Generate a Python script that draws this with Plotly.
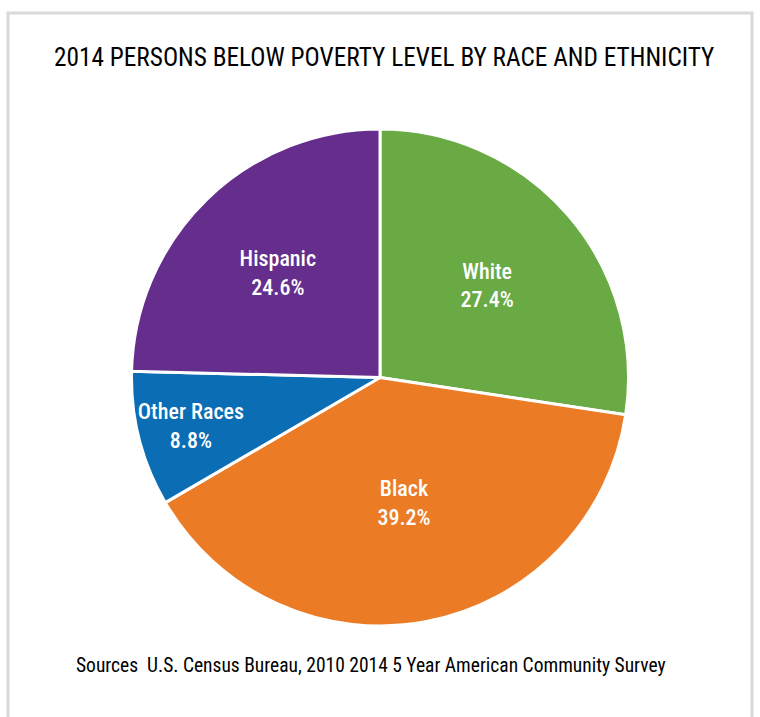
import plotly.graph_objects as go

categories = ["White", "Black", "Other Races", "Hispanic"]
values = [27.4, 39.2, 8.8, 24.6]
colors = ["#69AA45", "#EC7B26", "#0B6DB4", "#652E8D"]
labels_text = [f"{c}<br>{v:.1f}%" for c, v in zip(categories, values)]

W, H = 760, 717
FONT = "Arial Narrow, Liberation Sans Narrow, Roboto Condensed, Roboto, sans-serif"

fig = go.Figure(go.Pie(
    labels=categories,
    values=values,
    text=labels_text,
    textinfo="text",
    textposition="inside",
    insidetextorientation="horizontal",
    sort=False,
    direction="clockwise",
    rotation=0,
    marker=dict(colors=colors, line=dict(color="white", width=3)),
    textfont=dict(family=FONT, size=22, color="white", weight=500),
    hoverinfo="label+percent",
    domain=dict(x=[0.0, 1.0], y=[1 - 626 / H, 1 - 129 / H]),
    showlegend=False,
))

fig.update_layout(
    width=W, height=H,
    margin=dict(l=0, r=0, t=0, b=0),
    paper_bgcolor="white",
    plot_bgcolor="white",
    uniformtext=dict(minsize=21, mode="show"),
    shapes=[dict(type="rect", xref="paper", yref="paper",
                 x0=8 / W, x1=752 / W, y0=-0.05, y1=1 - 13 / H,
                 line=dict(color="#D9D9D9", width=3), fillcolor="rgba(0,0,0,0)")],
    annotations=[
        dict(text="2014 PERSONS BELOW POVERTY LEVEL BY RACE AND ETHNICITY",
             x=384 / W, y=1 - 58 / H, xref="paper", yref="paper",
             showarrow=False, xanchor="center", yanchor="middle",
             font=dict(family=FONT, size=25.3, color="black")),
        dict(text="Sources  U.S. Census Bureau, 2010 2014 5 Year American Community Survey",
             x=371 / W, y=1 - 665 / H, xref="paper", yref="paper",
             showarrow=False, xanchor="center", yanchor="middle",
             font=dict(family=FONT, size=19.5, color="black")),
    ],
)

fig.write_html("out.html")
